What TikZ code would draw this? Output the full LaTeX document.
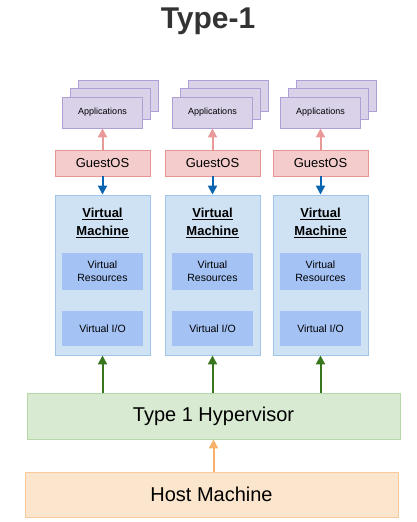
\documentclass[tikz,border=0pt]{standalone}
\usepackage{fontspec}
\setmainfont{Liberation Sans}
\usetikzlibrary{arrows.meta}
\definecolor{appF}{HTML}{D9D2E9}
\definecolor{appB}{HTML}{AE9FD5}
\definecolor{gF}{HTML}{F4CCCC}
\definecolor{gB}{HTML}{E69494}
\definecolor{vmF}{HTML}{CFE2F3}
\definecolor{vmB}{HTML}{9FC5E8}
\definecolor{inF}{HTML}{A4C2F4}
\definecolor{hvF}{HTML}{D9EAD3}
\definecolor{hvB}{HTML}{B6D7A8}
\definecolor{hoF}{HTML}{FCE5CD}
\definecolor{hoB}{HTML}{F9CB9C}
\definecolor{arP}{HTML}{EA9999}
\definecolor{arB}{HTML}{0B64B0}
\definecolor{arG}{HTML}{38761D}
\definecolor{arO}{HTML}{F6B26B}
\definecolor{ttl}{HTML}{333333}
\begin{document}
\begin{tikzpicture}[x=1pt,y=-1pt,
  box/.style={inner sep=0pt, line width=0.9pt, align=center},
  appbox/.style={box, draw=appB, fill=appF, minimum width=80pt, minimum height=31pt, font=\fontsize{9}{10}\selectfont},
  guestbox/.style={box, draw=gB, fill=gF, minimum width=95pt, minimum height=26pt, font=\fontsize{13}{14}\selectfont},
  vmbox/.style={box, draw=vmB, fill=vmF, minimum width=95pt, minimum height=160pt},
  innerbox/.style={box, fill=inF, minimum width=81pt, font=\fontsize{10.5}{13}\selectfont},
  bigbox/.style={box, minimum width=373pt, minimum height=46pt, font=\fontsize{20}{22}\selectfont},
  arr/.style={line width=2pt, -{Triangle[length=9pt,width=9pt]}}
]
\useasboundingbox (0,0) rectangle (416,522);
\node[font=\fontsize{30}{31}\selectfont\bfseries, text=ttl, anchor=base, inner sep=0pt] (title) at (208,28) {Type-1};
\foreach \i/\cx in {1/102.5, 2/212.5, 3/320.5}{
  \node[appbox] (appc\i) at (\cx+16,96) {};
  \node[appbox] (appb\i) at (\cx+8,104) {};
  \node[appbox] (app\i) at (\cx,112.5) {Applications};
  \node[guestbox] (g\i) at (\cx,163) {GuestOS};
  \node[vmbox] (vm\i) at (\cx,275) {};
  \node[box, font=\fontsize{13}{18}\selectfont\bfseries] (vt\i) at (\cx,223) {\underline{Virtual}\\\underline{Machine}};
  \node[innerbox, minimum height=37pt] (vr\i) at (\cx,271.5) {Virtual\\Resources};
  \node[innerbox, minimum height=35pt] (vio\i) at (\cx,328.5) {Virtual I/O};
  \draw[arr, arP] (g\i.north) -- (app\i.south);
  \draw[arr, arB] (g\i.south) -- (vm\i.north);
}
\node[bigbox, draw=hvB, fill=hvF] (hv) at (213.5,416) {Type 1 Hypervisor};
\node[bigbox, draw=hoB, fill=hoF, minimum height=45pt] (host) at (211.5,494.5) {Host Machine};
\foreach \i in {1,2,3}{
  \draw[arr, arG] (hv.north -| vm\i.south) -- (vm\i.south);
}
\draw[arr, arO] (host.north -| hv.south) -- (hv.south);
\end{tikzpicture}
\end{document}
